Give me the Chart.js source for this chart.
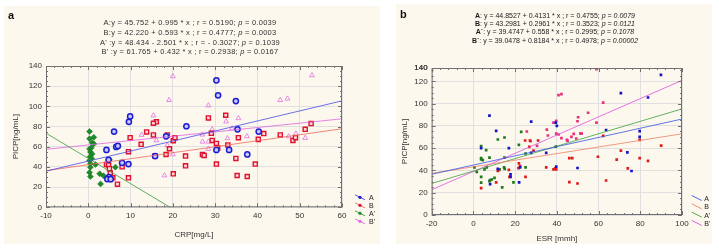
<!DOCTYPE html>
<html>
<head>
<meta charset="utf-8">
<script src="https://cdn.jsdelivr.net/npm/chart.js@4"></script>
<style>
  body { margin:0; width:719px; height:250px; background:#fff; position:relative; overflow:hidden;
         font-family:"Liberation Sans", Arial, sans-serif; color:#333; }
  .panel { position:absolute; background:#fcf8ee; }
  #pa { left:4px; top:6px; width:376px; height:238px; }
  #pb { left:396px; top:4px; width:316px; height:240px; }
  canvas { position:absolute; left:0; top:0; }
  .tag { position:absolute; font-weight:bold; font-size:11px; color:#111; }
  .eq { position:absolute; width:300px; text-align:center; white-space:nowrap; }
  #eqa { left:40px; top:18px; font-size:7.5px; letter-spacing:0.25px; line-height:9.8px; color:#333; }
  #eqb { left:405px; top:11.5px; font-size:7px; line-height:8.4px; color:#1a1a1a; }
</style>
</head>
<body>
<div class="panel" id="pa"><canvas id="chart-a" width="376" height="238"></canvas></div>
<div class="panel" id="pb"><canvas id="chart-b" width="316" height="240"></canvas></div>
<div class="tag" style="left:8px;top:9px">a</div>
<div class="tag" style="left:400px;top:8px">b</div>
<div class="eq" id="eqa">
  A:y = 45.752 + 0.995 * x ; r = 0.5190; <i>p</i> = 0.0039<br>
  B:y = 42.220 + 0.593 * x ; r = 0.4777; <i>p</i> = 0.0003<br>
  A' :y = 48.434 - 2.501 * x ; r = - 0.3027; <i>p</i> = 0.1039<br>
  B' :y = 61.765 + 0.432 * x ; r = 0.2938; <i>p</i> = 0.0167
</div>
<div class="eq" id="eqb">
  <b>A</b>: y = 44.8527 + 0.4131 * x ; r = 0.4755; <i>p = 0.0079</i><br>
  <b>B</b>: y = 43.2981 + 0.2961 * x ; r = 0.3523; <i>p = 0.0121</i><br>
  <b>A`</b>: y = 39.4747 + 0.558 * x ; r = 0.2995; <i>p = 0.1078</i><br>
  <b>B`</b>: y = 39.0478 + 0.8184 * x ; r = 0.4978; <i>p = 0.00002</i>
</div>
<script>
// ── Data: panel a, PICP vs CRP ───────────────────────────────
const crpA_x  = [9.9, 9.6, 6.1, 4.3, 6.6, 7.0, 9.5, 8.0, 4.8, 4.9, 4.5, 5.3, 18.4, 23.2, 30.3, 30.7, 34.9, 35.3, 40.3, 30.3, 33.3, 37.6, 15.8];
const crpA_y  = [90, 84.7, 75, 56.8, 59.8, 60.8, 42.8, 44.1, 47.1, 29.9, 28, 27.9, 70.3, 80.3, 125.8, 110.9, 105.2, 77.3, 75, 56.8, 56.8, 52.4, 50.8];
const crpB_x  = [9.9, 9.5, 13.8, 12.5, 15.4, 16.1, 15.4, 18.7, 20.1, 20.5, 19.2, 18.4, 15.8, 23, 23, 20.1, 4.3, 4.8, 5.0, 5.2, 8.0, 5.8, 6.9, 9.5,
                 32.5, 28.4, 29.1, 29.3, 30.3, 30.6, 33.0, 27, 27.4, 30.3, 34.9, 35.5, 35.2, 37.6, 39.5, 40.2, 41.5, 45.4, 48.4, 49, 51.3, 52.7];
const crpB_y  = [69, 55.1, 74.7, 62.4, 71.7, 84.7, 83.3, 71.7, 66, 69, 58, 52.4, 50.8, 50.8, 41.1, 33.2, 42.4, 41.8, 38.4, 33.9, 40.1, 29.2, 22.9, 29.2,
                 91.2, 88.6, 73.3, 66.3, 63.3, 58.8, 61.8, 52.4, 51.4, 42.8, 48.4, 69, 31.5, 30.5, 42.8, 67.3, 73, 71.7, 66.3, 69, 77.3, 83];
const crpA2_x = [0.3, 1.3, 0.3, 0.9, 1.3, 0.3, 0.5, 0.9, 0.4, 0.8, 0.3, 0.5, 1.7, 0.5, 0.3, 0.5, 2.7, 3.6, 2.9, 4.6, 5.0, 6.4, 0.7];
const crpA2_y = [75, 69.3, 68, 64, 63, 57.8, 54.8, 52.8, 50.1, 48.4, 46.4, 43.1, 42.4, 39.8, 34.5, 30.5, 33.2, 31.2, 23.2, 28.9, 47.1, 39.8, 59];
const crpB2_x = [20, 19.1, 15.4, 12.6, 16.1, 18.7, 20, 18, 52.9, 28.4, 45.4, 47.1, 32.6, 35.5, 34, 29.3, 27, 27, 28.4, 28.4, 32.9, 37.5, 47.4, 49.1, 51.3];
const crpB2_y = [129.8, 106.2, 90.9, 71.7, 66.3, 61.4, 52.4, 31.5, 130.8, 100.9, 106.2, 107.6, 85, 88.2, 78, 77.3, 72, 65, 65, 57.8, 68.3, 70.3, 70.3, 73, 68.7];
// regression [intercept, slope]
const crpFitA  = [45.752, 0.995];
const crpFitB  = [42.220, 0.593];
const crpFitA2 = [48.434, -2.501];
const crpFitB2 = [61.765, 0.432];

// ── Data: panel b, PICP vs ESR ───────────────────────────────
const esrA_x  = [7.7, 10.9, 27.7, 17, 3.7, 11.7, 17.8, 17.8, 8, 22.4, 21.9, 27.7, 34.9, 39.7, 40, 39.5, 89.9, 70.7, 83.7, 63.6, 79.7, 79.7, 73.8, 75.8, 49.9];
const esrA_y  = [89.3, 75.5, 83.9, 60, 60, 41.5, 36.4, 34.3, 27.8, 42.7, 29.3, 55.8, 55.8, 43.5, 80, 83, 125.8, 109.4, 105.5, 76.3, 75.4, 70.2, 56.2, 39.5, 42.2];
const esrB_x  = [3.7, 10.9, 11.7, 12.2, 17, 17.3, 21.6, 22.4, 21.8, 25, 34.9, 38.4, 39.2, 39.7, 46, 47.4, 46, 49.9, 63.6, 59.7, 70.7, 68.7, 74, 79.7, 83.7, 79.7, 90, 62.2,
                 24.8, 27.1, 26.8, 28.8, 31];
const esrB_y  = [24.2, 29.3, 39.7, 40.6, 40.6, 34.3, 42.1, 44, 46.3, 34.3, 42.7, 40.9, 41.8, 41, 51.1, 51.1, 29.5, 28.3, 31, 52.3, 57.8, 49.8, 41.9, 51.1, 48.6, 67.5, 62.3, 71.1,
                 66.9, 66.9, 61.1, 57.8, 66.9];
const esrA2_x = [3.7, 3.7, 3.7, 4.5, 6.1, 6.4, 5.3, 7.7, 11.7, 14.9, 22.9, 21.8, 25, 0.5, 1.6, 3.7, 3.7, 8, 7.7, 8.8, 10.1, 14.7, 15, 13.8, 19.2, 25, 12.5, 14.9, 39.5];
const esrA2_y = [61.8, 51, 49.9, 49.3, 58.2, 42.7, 40.9, 51.6, 67.8, 69.6, 74.6, 63, 55.2, 42.7, 38.8, 34.3, 29, 31.3, 30.4, 31.9, 33.4, 42.7, 41.5, 24.8, 29.3, 42.7, 40.9, 51.6, 61.4];
const esrB2_x = [35.7, 35.2, 38.4, 39.7, 40.8, 42.2, 44.8, 45.1, 48.1, 49.3, 49.9, 50.2, 51.3, 51.9, 55, 59, 59, 40.8, 42.2, 62.2, 47, 25.6, 27.4, 39.7, 30.5];
const esrB2_y = [71.4, 76.6, 83, 73, 72.3, 69, 67.5, 66.6, 72.9, 68.7, 84.2, 87.8, 73.3, 73, 91.8, 83, 131, 107.6, 108.5, 100.9, 70.2, 75, 66.3, 84.5, 62];
const esrFitA  = [44.8527, 0.4131];
const esrFitB  = [43.2981, 0.2961];
const esrFitA2 = [39.4747, 0.558];
const esrFitB2 = [39.0478, 0.8184];
// panel b: the frame in the source stops just above 130, yet its top is labelled 140
const esrYMax = 132;
const esrYTopLabel = '140';

const legendLabels = ['A', 'B', "A'", "B'"];

// ── Helpers ──────────────────────────────────────────────────
Chart.defaults.font.family = '"Liberation Sans", Arial, sans-serif';
Chart.defaults.color = '#333';

const pts = (xs, ys) => xs.map((x, i) => ({ x, y: ys[i] }));
const fit = ([b, m], x0, x1) => [{ x:x0, y:b + m*x0 }, { x:x1, y:b + m*x1 }];

function lineSet(data, color) {
  return { type:'line', data, borderColor:color, borderWidth:0.8, pointRadius:0, fill:false, tension:0 };
}

// frame, minor ticks and the small legend at the right
const frame = {
  id:'frame',
  afterDatasetsDraw(chart, args, o) {
    const { ctx, chartArea:a, scales:{ x, y } } = chart;
    ctx.save();
    ctx.strokeStyle = '#707070'; ctx.lineWidth = 1;
    ctx.strokeRect(a.left + 0.5, a.top + 0.5, a.width - 1, a.height - 1);
    ctx.beginPath();
    for (let v = x.min; v <= x.max + 1e-6; v += o.xMinor) {
      const px = Math.round(x.getPixelForValue(v)) + 0.5;
      const len = Math.abs(v % o.xMajor) < 1e-6 ? 4 : 2;
      ctx.moveTo(px, a.bottom); ctx.lineTo(px, a.bottom - len);
      ctx.moveTo(px, a.top);    ctx.lineTo(px, a.top + len);
    }
    for (let v = y.min; v <= y.max + 1e-6; v += o.yMinor) {
      const py = Math.round(y.getPixelForValue(v)) + 0.5;
      const len = Math.abs(v % o.yMajor) < 1e-6 ? 4 : 2;
      ctx.moveTo(a.left, py);  ctx.lineTo(a.left + len, py);
      ctx.moveTo(a.right, py); ctx.lineTo(a.right - len, py);
    }
    ctx.stroke();

    // legend
    ctx.font = '7px "Liberation Sans", Arial, sans-serif';
    ctx.textBaseline = 'middle';
    o.legend.forEach((it, i) => {
      const x0 = a.right + o.lx0, x1 = a.right + o.lx1;
      const yc = a.bottom + o.ly0 + i * o.ldy;
      ctx.strokeStyle = it.line; ctx.lineWidth = 0.9;
      ctx.beginPath(); ctx.moveTo(x0, yc - 2.5); ctx.lineTo(x1, yc + 2.5); ctx.stroke();
      if (o.markers) {
        ctx.fillStyle = it.mark;
        ctx.beginPath(); ctx.arc((x0 + x1) / 2, yc, 1.6, 0, Math.PI * 2); ctx.fill();
      }
      ctx.fillStyle = '#222';
      ctx.fillText(legendLabels[i], a.right + o.ltx, yc + 1);
    });
    ctx.restore();
  }
};

function axes(xr, yr, yWidth, xHeight, xTitle, yTitlePad) {
  const tickFont = { size:8 };
  return {
    x: { type:'linear', min:xr[0], max:xr[1],
         ticks:{ stepSize:xr[2], font:tickFont, padding:4, color:'#333' },
         grid:{ color:'#e0e0e0', drawTicks:false }, border:{ display:false },
         title:{ display:true, text:xTitle, font:{ size:8 }, color:'#333', padding:{ top:0, bottom:0 } },
         afterFit: s => { s.height = xHeight; } },
    y: { type:'linear', min:yr[0], max:yr[1],
         ticks:{ stepSize:yr[2], font:tickFont, padding:4, color:'#333' },
         grid:{ color:'#e0e0e0', drawTicks:false }, border:{ display:false },
         title:{ display:true, text:'PICP[ng/mL]', font:{ size:8 }, color:'#333', padding:{ top:yTitlePad, bottom:0 } },
         afterFit: s => { s.width = yWidth; } },
  };
}

const common = {
  responsive:false, animation:false, events:[],
  plugins:{ legend:{ display:false }, tooltip:{ enabled:false } },
};

// ── Panel a ──────────────────────────────────────────────────
new Chart(document.getElementById('chart-a'), {
  type:'scatter',
  data:{ datasets:[
    lineSet(fit(crpFitA, -10, 60),  '#4a4ae6'),
    lineSet(fit(crpFitB, -10, 60),  '#f06a5a'),
    lineSet(fit(crpFitA2, -10, 60), '#3a9a3a'),
    lineSet(fit(crpFitB2, -10, 60), '#dd66dd'),
    { data:pts(crpA_x, crpA_y), pointStyle:'circle', pointRadius:2.6, borderWidth:1.5,
      borderColor:'#1c1cd0', backgroundColor:'#c8c8ff' },
    { data:pts(crpB_x, crpB_y), pointStyle:'rect', pointRadius:2.9, borderWidth:1.4,
      borderColor:'#e0102e', backgroundColor:'#ffd8d8' },
    { data:pts(crpA2_x, crpA2_y), pointStyle:'rectRot', pointRadius:3, borderWidth:0.5,
      borderColor:'#157a1f', backgroundColor:'#1f8a2a' },
    { data:pts(crpB2_x, crpB2_y), pointStyle:'triangle', pointRadius:2.8, borderWidth:0.8,
      borderColor:'#e070e0', backgroundColor:'rgba(255,255,255,0)' },
  ]},
  options:{ ...common,
    layout:{ padding:{ left:0, right:38, top:60, bottom:4 } },
    scales: axes([-10, 60, 10], [0, 140, 20], 42, 32.7, 'CRP[mg/L]', 7),
    plugins:{ ...common.plugins,
      frame:{ xMinor:2, xMajor:10, yMinor:5, yMajor:20, markers:true,
              lx0:13, lx1:23, ltx:27, ly0:-10, ldy:8,
              legend:[ { line:'#4a4ae6', mark:'#1c1cd0' }, { line:'#f06a5a', mark:'#e0102e' },
                       { line:'#3a9a3a', mark:'#1f8a2a' }, { line:'#dd66dd', mark:'#e070e0' } ] } } },
  plugins:[frame],
});

// ── Panel b ──────────────────────────────────────────────────
const scalesB = axes([-20, 100, 20], [0, esrYMax, 20], 35.7, 29, 'ESR [mmh]', 4);
scalesB.y.afterBuildTicks = s => { s.ticks.push({ value: esrYMax }); };
scalesB.y.ticks.callback = v => (v === esrYMax ? esrYTopLabel : v);

new Chart(document.getElementById('chart-b'), {
  type:'scatter',
  data:{ datasets:[
    lineSet(fit(esrFitA, -20, 100),  '#3a54e0'),
    lineSet(fit(esrFitB, -20, 100),  '#f08066'),
    lineSet(fit(esrFitA2, -20, 100), '#3fa03f'),
    lineSet(fit(esrFitB2, -20, 100), '#e050e0'),
    { data:pts(esrA_x, esrA_y), pointStyle:'rect', pointRadius:1.9, borderWidth:0,
      backgroundColor:'#1414c8' },
    { data:pts(esrB_x, esrB_y), pointStyle:'rect', pointRadius:1.9, borderWidth:0,
      backgroundColor:'#e01a1a' },
    { data:pts(esrA2_x, esrA2_y), pointStyle:'rect', pointRadius:1.9, borderWidth:0,
      backgroundColor:'#1c7a1c' },
    { data:pts(esrB2_x, esrB2_y), pointStyle:'rect', pointRadius:1.9, borderWidth:0,
      backgroundColor:'#e8307a' },
  ]},
  options:{ ...common,
    layout:{ padding:{ left:0, right:30, top:64, bottom:0 } },
    scales: scalesB,
    plugins:{ ...common.plugins,
      frame:{ xMinor:4, xMajor:20, yMinor:5, yMajor:20, markers:false,
              lx0:9.7, lx1:19.7, ltx:22.3, ly0:-17, ldy:8.3,
              legend:[ { line:'#3a54e0' }, { line:'#f08066' }, { line:'#3fa03f' }, { line:'#e050e0' } ] } } },
  plugins:[frame],
});
</script>
</body>
</html>
